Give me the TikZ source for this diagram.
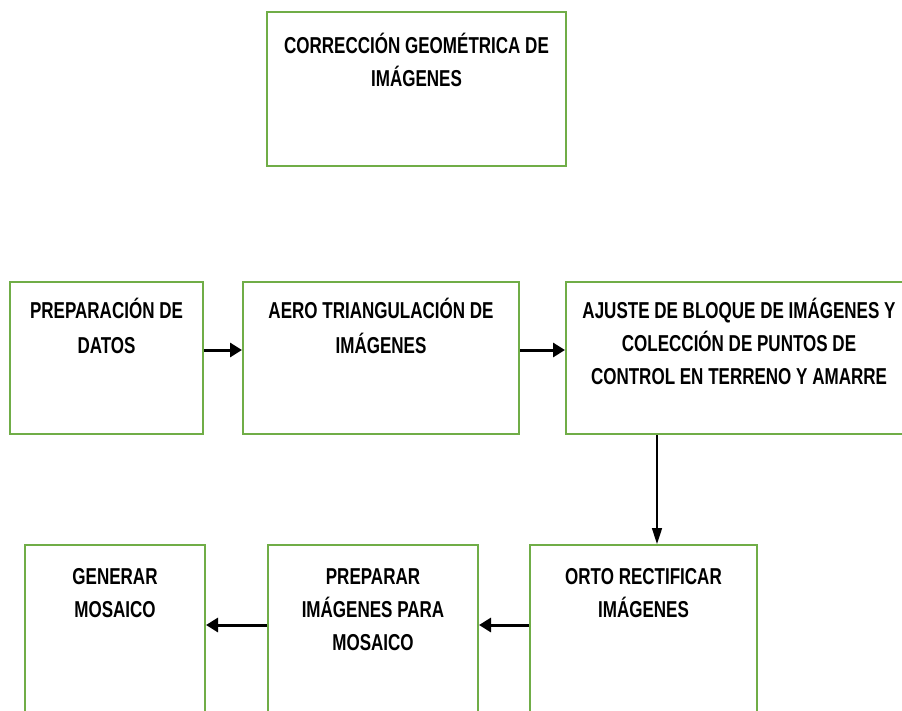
\documentclass[tikz,border=0pt]{standalone}
\usepackage{fontspec}
\newfontfamily\narrowsans{Liberation Sans}[FakeStretch=0.74]
\usetikzlibrary{positioning, arrows.meta}
\definecolor{stagegreen}{RGB}{112,173,71}
\begin{document}
\begin{tikzpicture}[
    x=1pt, y=-1pt,
    stagebox/.style={
        draw=stagegreen,
        line width=2pt,
        minimum height=152pt,
        inner sep=0pt,
    },
    stagetext/.style={
        align=center,
        inner sep=0pt,
        font=\narrowsans\bfseries\fontsize{23}{33}\selectfont,
    },
    flowarrow/.style={-{Triangle[length=12pt,width=14pt]}, line width=3pt},
    droparrow/.style={-{Triangle[length=16pt,width=10pt]}, line width=1.6pt}
]
\clip (0,0) rectangle (902,710);

% Title box
\node[stagebox, minimum width=299pt, minimum height=154pt] (corr) at (416.5,89) {};
\node[stagetext, below=19pt of corr.north] (corrT) {\strut CORRECCIÓN GEOMÉTRICA DE\\IMÁGENES};

% First row
\node[stagebox, minimum width=193pt] (prep) at (106.5,358) {};
\node[stagebox, minimum width=276pt, right=38pt of prep] (aero) {};
\node[stagebox, minimum width=346pt, right=45pt of aero] (ajuste) {};
\node[stagetext, below=14pt of prep.north] (prepT) {\strut PREPARACIÓN DE\\[2pt]DATOS};
\node[stagetext, below=14pt of aero.north] (aeroT) {\strut AERO TRIANGULACIÓN DE\\[2pt]IMÁGENES};
\node[stagetext, below=14pt of ajuste.north] (ajusteT) {\strut AJUSTE DE BLOQUE DE IMÁGENES Y\\COLECCIÓN DE PUNTOS DE\\CONTROL EN TERRENO Y AMARRE};

% Second row
\node[stagebox, minimum width=227pt, minimum height=175pt] (orto) at (643.5,632.5) {};
\node[stagebox, minimum width=210pt, minimum height=175pt, left=50pt of orto] (prepmos) {};
\node[stagebox, minimum width=180pt, minimum height=175pt, left=61pt of prepmos] (gen) {};
\node[stagetext, below=17pt of orto.north] (ortoT) {\strut ORTO RECTIFICAR\\IMÁGENES};
\node[stagetext, below=17pt of prepmos.north] (prepmosT) {\strut PREPARAR\\IMÁGENES PARA\\MOSAICO};
\node[stagetext, below=17pt of gen.north] (genT) {\strut GENERAR\\MOSAICO};

% Arrows
\draw[flowarrow] ([yshift=8pt]prep.east) -- ([yshift=8pt]aero.west);
\draw[flowarrow] ([yshift=8pt]aero.east) -- ([yshift=8pt]ajuste.west);
\draw[droparrow] ([xshift=-82pt]ajuste.south) -- ([xshift=-82pt]ajuste.south |- orto.north);
\draw[flowarrow] ([yshift=7.5pt]orto.west) -- ([yshift=7.5pt]prepmos.east);
\draw[flowarrow] ([yshift=7.5pt]prepmos.west) -- ([yshift=7.5pt]gen.east);

\end{tikzpicture}
\end{document}
